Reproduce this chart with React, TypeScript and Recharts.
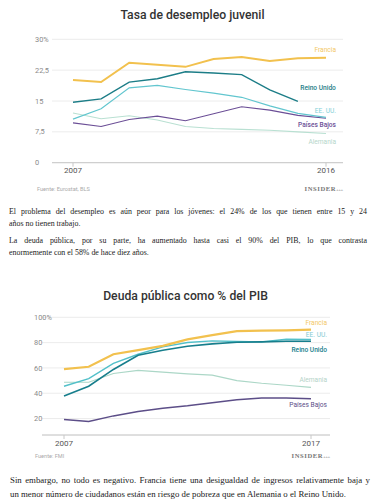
import React from "react";
import { LineChart, Line, XAxis, YAxis, CartesianGrid, LabelList } from "recharts";

// --- Tasa de desempleo juvenil (%)
const years1 = [2007, 2008, 2009, 2010, 2011, 2012, 2013, 2014, 2015, 2016];
const francia1 = [20.1, 19.6, 24.3, 23.8, 23.3, 25.2, 25.7, 24.7, 25.4, 25.5];
const reinoUnido1 = [14.7, 15.5, 19.6, 20.4, 22.1, 21.8, 21.4, 17.7, 14.9, null];
const eeuu1 = [10.6, 13.1, 18.2, 18.8, 17.8, 16.9, 15.9, 13.8, 12.0, 11.0];
const paisesBajos1 = [9.7, 8.8, 10.5, 11.3, 10.2, 11.9, 13.6, 12.8, 11.5, 10.8];
const alemania1 = [12.1, 10.7, 11.4, 10.4, 8.8, 8.3, 8.1, 7.9, 7.5, 7.1];
const yTicks1 = [0, 7.5, 15, 22.5, 30];
const xTicks1 = [2007, 2016];

// --- Deuda pública como % del PIB
const years2 = [2007, 2008, 2009, 2010, 2011, 2012, 2013, 2014, 2015, 2016, 2017];
const francia2 = [59.1, 60.9, 70.8, 74.0, 77.4, 82.5, 85.9, 89.1, 89.4, 89.6, 90.2];
const eeuu2 = [45.5, 51.6, 63.6, 70.8, 76.6, 80.1, 81.4, 80.9, 80.6, 82.7, 82.5];
const reinoUnido2 = [37.8, 45.5, 58.8, 70.0, 74.0, 77.1, 79.0, 80.3, 80.6, 81.1, 81.1];
const alemania2 = [48.7, 48.7, 55.6, 58.0, 56.7, 55.3, 54.3, 50.0, 47.9, 46.3, 44.7];
const paisesBajos2 = [19.2, 17.6, 22.1, 25.6, 28.2, 30.1, 32.5, 34.9, 36.2, 36.2, 35.7];
const yTicks2 = [20, 40, 60, 80, 100];
const xTicks2 = [2007, 2017];

const data1 = years1.map((y, i) => ({
  year: y,
  francia: francia1[i],
  reinoUnido: reinoUnido1[i],
  eeuu: eeuu1[i],
  paisesBajos: paisesBajos1[i],
  alemania: alemania1[i],
}));

const data2 = years2.map((y, i) => ({
  year: y,
  francia: francia2[i],
  eeuu: eeuu2[i],
  reinoUnido: reinoUnido2[i],
  alemania: alemania2[i],
  paisesBajos: paisesBajos2[i],
}));

const SANS = "Roboto, 'Noto Sans', sans-serif";
const SERIF = "'Liberation Serif', 'DejaVu Serif', serif";

function lastIdx(arr: (number | null)[]) {
  for (let i = arr.length - 1; i >= 0; i--) if (arr[i] != null) return i;
  return -1;
}

// series name printed at the end of its line, nudged off the line
function endLabel(text: string, color: string, last: number, dx: number, dy: number, bold = false) {
  return (p: any) => {
    if (p.index !== last || p.x == null || p.y == null) return null;
    return (
      <text x={p.x + dx} y={p.y + dy} dy="0.35em" textAnchor="end" fill={color} fontSize={6.6} fontFamily={SANS} fontWeight={bold ? 500 : 400}>
        {text}
      </text>
    );
  };
}

function leftTick(x0: number, fmt: (v: number) => string) {
  return (p: any) => (
    <text x={x0} y={p.y} dy="0.35em" textAnchor="start" fill="#8a8a8a" fontSize={7.4} fontFamily={SANS}>
      {fmt(p.payload.value)}
    </text>
  );
}

const fmt1 = (v: number) => (v === 30 ? "30%" : String(v).replace(".", ","));
const fmt2 = (v: number) => (v === 100 ? "100%" : String(v));

const xTickStyle = { fill: "#555", fontSize: 8, fontFamily: SANS };

function Insider({ right, top }: { right: number; top: number }) {
  return (
    <div style={{ position: "absolute", right, top, fontFamily: SERIF, fontSize: 6.6, color: "#777", letterSpacing: 0.6, lineHeight: "8px", fontWeight: 700 }}>
      INSIDER<span style={{ fontSize: 4, color: "#aaa", letterSpacing: 0 }}>+++</span>
    </div>
  );
}

const lineRow = (justify: boolean): React.CSSProperties => ({
  textAlign: justify ? "justify" : "left",
  textAlignLast: justify ? "justify" : "left",
  whiteSpace: "nowrap",
  overflow: "visible",
});

export default function App() {
  return (
    <div style={{ position: "absolute", left: 0, top: 0, width: 375, height: 500, background: "#fff", overflow: "hidden", color: "#222" }}>
      {/* chart 1 */}
      <div style={{ position: "absolute", left: 0, top: 7, width: 385, textAlign: "center", fontFamily: SANS, fontSize: 12.2, fontWeight: 500, color: "#333", lineHeight: "16px" }}>
        Tasa de desempleo juvenil
      </div>
      <div style={{ position: "absolute", left: 0, top: 0 }}>
        <LineChart width={375} height={190} data={data1} margin={{ top: 39.3, right: 32, left: 0, bottom: 7.3 }}>
          <CartesianGrid horizontal vertical={false} stroke="#ececec" />
          <XAxis
            dataKey="year"
            type="number"
            domain={[2007, 2016]}
            ticks={xTicks1}
            padding={{ left: 21, right: 17 }}
            height={20}
            axisLine={{ stroke: "#c8c8c8" }}
            tickLine={{ stroke: "#c8c8c8" }}
            tickSize={4}
            tickMargin={1}
            tick={xTickStyle}
          />
          <YAxis width={52} domain={[0, 30]} ticks={yTicks1} axisLine={false} tickLine={false} tick={leftTick(35, fmt1)} />
          <Line dataKey="alemania" stroke="#b9e0d2" strokeWidth={1.1} dot={false} activeDot={false} isAnimationActive={false}>
            <LabelList dataKey="alemania" content={endLabel("Alemania", "#b5d6ca", lastIdx(alemania1), 10, 8)} />
          </Line>
          <Line dataKey="paisesBajos" stroke="#6b4e96" strokeWidth={1.2} dot={false} activeDot={false} isAnimationActive={false}>
            <LabelList dataKey="paisesBajos" content={endLabel("Países Bajos", "#6b4e96", lastIdx(paisesBajos1), 10, 6, true)} />
          </Line>
          <Line dataKey="eeuu" stroke="#62c6cf" strokeWidth={1.2} dot={false} activeDot={false} isAnimationActive={false}>
            <LabelList dataKey="eeuu" content={endLabel("EE. UU.", "#82d0d7", lastIdx(eeuu1), 10, -7)} />
          </Line>
          <Line dataKey="reinoUnido" stroke="#1c7d87" strokeWidth={1.4} dot={false} activeDot={false} isAnimationActive={false}>
            <LabelList dataKey="reinoUnido" content={endLabel("Reino Unido", "#1c7d87", lastIdx(reinoUnido1), 38, -14, true)} />
          </Line>
          <Line dataKey="francia" stroke="#f2c14e" strokeWidth={2} dot={false} activeDot={false} isAnimationActive={false}>
            <LabelList dataKey="francia" content={endLabel("Francia", "#f3c866", lastIdx(francia1), 10, -8)} />
          </Line>
        </LineChart>
      </div>
      <div style={{ position: "absolute", left: 37, top: 185, fontFamily: SANS, fontSize: 5.6, color: "#aaa", lineHeight: "8px" }}>
        Fuente: Eurostat, BLS
      </div>
      <Insider right={32} top={185} />

      {/* text */}
      <div style={{ position: "absolute", left: 9, top: 206, width: 358, fontFamily: SERIF, fontSize: 7.9, lineHeight: "12px" }}>
        <div style={lineRow(true)}>El problema del desempleo es aún peor para los jóvenes: el 24% de los que tienen entre 15 y 24</div>
        <div style={lineRow(false)}>años no tienen trabajo.</div>
        <div style={{ ...lineRow(true), marginTop: 5 }}>La deuda pública, por su parte, ha aumentado hasta casi el 90% del PIB, lo que contrasta</div>
        <div style={lineRow(false)}>enormemente con el 58% de hace diez años.</div>
      </div>

      {/* chart 2 */}
      <div style={{ position: "absolute", left: 0, top: 288, width: 371, textAlign: "center", fontFamily: SANS, fontSize: 12.2, fontWeight: 500, color: "#333", lineHeight: "16px" }}>
        Deuda pública como % del PIB
      </div>
      <div style={{ position: "absolute", left: 0, top: 280 }}>
        <LineChart width={375} height={180} data={data2} margin={{ top: 37.3, right: 45, left: 0, bottom: 5 }}>
          <CartesianGrid horizontal vertical={false} stroke="#ececec" />
          <XAxis
            dataKey="year"
            type="number"
            domain={[2007, 2017]}
            ticks={xTicks2}
            padding={{ left: 22, right: 19 }}
            height={20}
            axisLine={{ stroke: "#c8c8c8" }}
            tickLine={{ stroke: "#c8c8c8" }}
            tickSize={4}
            tickMargin={1}
            tick={xTickStyle}
          />
          <YAxis width={42} domain={[7, 100]} ticks={yTicks2} axisLine={false} tickLine={false} tick={leftTick(34, fmt2)} />
          <Line dataKey="alemania" stroke="#acd7c7" strokeWidth={1.2} dot={false} activeDot={false} isAnimationActive={false}>
            <LabelList dataKey="alemania" content={endLabel("Alemania", "#b5d3c8", lastIdx(alemania2), 16, -8)} />
          </Line>
          <Line dataKey="paisesBajos" stroke="#5c4e88" strokeWidth={1.5} dot={false} activeDot={false} isAnimationActive={false}>
            <LabelList dataKey="paisesBajos" content={endLabel("Países Bajos", "#5c4e88", lastIdx(paisesBajos2), 16, 6)} />
          </Line>
          <Line dataKey="eeuu" stroke="#52c0c9" strokeWidth={1.4} dot={false} activeDot={false} isAnimationActive={false}>
            <LabelList dataKey="eeuu" content={endLabel("EE. UU.", "#7fcad2", lastIdx(eeuu2), 16, -5)} />
          </Line>
          <Line dataKey="reinoUnido" stroke="#177e8c" strokeWidth={1.6} dot={false} activeDot={false} isAnimationActive={false}>
            <LabelList dataKey="reinoUnido" content={endLabel("Reino Unido", "#177e8c", lastIdx(reinoUnido2), 16, 8, true)} />
          </Line>
          <Line dataKey="francia" stroke="#f2c14e" strokeWidth={2.2} dot={false} activeDot={false} isAnimationActive={false}>
            <LabelList dataKey="francia" content={endLabel("Francia", "#f3c866", lastIdx(francia2), 16, -7)} />
          </Line>
        </LineChart>
      </div>
      <div style={{ position: "absolute", left: 35, top: 452, fontFamily: SANS, fontSize: 5.6, color: "#aaa", lineHeight: "8px" }}>
        Fuente: FMI
      </div>
      <Insider right={45} top={452} />

      <div style={{ position: "absolute", left: 10, top: 473, width: 360, fontFamily: SERIF, fontSize: 8.8, lineHeight: "14px" }}>
        <div style={lineRow(true)}>Sin embargo, no todo es negativo. Francia tiene una desigualdad de ingresos relativamente baja y</div>
        <div style={lineRow(false)}>un menor número de ciudadanos están en riesgo de pobreza que en Alemania o el Reino Unido.</div>
      </div>
    </div>
  );
}
